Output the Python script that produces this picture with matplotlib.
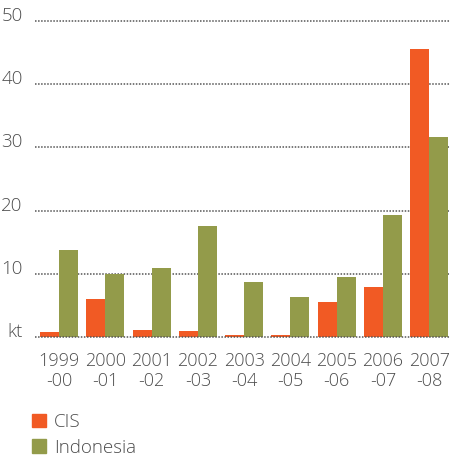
import matplotlib.pyplot as plt
import numpy as np
from matplotlib.patches import Patch

years = ["1999\n-00", "2000\n-01", "2001\n-02", "2002\n-03", "2003\n-04",
         "2004\n-05", "2005\n-06", "2006\n-07", "2007\n-08"]
cis = [0.8, 6.0, 1.1, 0.95, 0.3, 0.3, 5.5, 7.9, 45.6]
indonesia = [13.8, 10.0, 10.9, 17.6, 8.7, 6.3, 9.5, 19.3, 31.6]
y_ticks = [0, 10, 20, 30, 40, 50]
y_labels = ["kt", "10", "20", "30", "40", "50"]

ORANGE = "#F15A24"
OLIVE = "#939B4A"
TEXT = "#4D4D4D"

plt.rcParams.update({
    "font.family": ["Open Sans", "DejaVu Sans"],
    "font.weight": "light",
    "font.size": 13,
    "text.color": TEXT,
})

fig = plt.figure(figsize=(4.5, 4.58), dpi=100)
ax = fig.add_axes([0.078, 0.264, 0.922, 0.690])

x = np.arange(len(years))
w = 0.41
ax.bar(x - w / 2, cis, width=w, color=ORANGE, zorder=3)
ax.bar(x + w / 2, indonesia, width=w, color=OLIVE, zorder=3)

ax.set_xlim(-0.52, 8.45)
ax.set_ylim(0, 50)
ax.set_yticks(y_ticks)
ax.set_yticklabels(y_labels, va="baseline")
ax.set_xticks(x)
ax.set_xticklabels(years, linespacing=1.15)
ax.tick_params(axis="y", length=0, pad=9, labelcolor=TEXT, labelsize=13.5)
ax.tick_params(axis="x", length=0, pad=11, labelcolor=TEXT, labelsize=13)
for s in ax.spines.values():
    s.set_visible(False)
for yv in y_ticks:
    ax.axhline(yv, color="#555555", linewidth=1.1, linestyle=(0, (1, 1)),
               zorder=4 if yv == 0 else 1, clip_on=False)

handles = [Patch(color=ORANGE, label="CIS"), Patch(color=OLIVE, label="Indonesia")]
fig.legend(handles=handles, loc="upper left", bbox_to_anchor=(0.072, 0.098),
           frameon=False, handlelength=0.7, handleheight=0.7, handletextpad=0.45,
           labelspacing=0.4, fontsize=13.5, borderaxespad=0, borderpad=0)

fig.savefig("out.png", dpi=100)
